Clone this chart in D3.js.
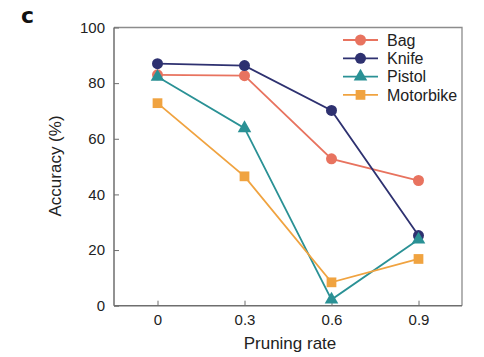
<!DOCTYPE html>
<html><head><meta charset="utf-8">
<script src="https://cdn.jsdelivr.net/npm/d3@7"></script>
<style>body{margin:0;background:#fff}svg{display:block}</style>
</head><body>
<script>
const rates = [0, 0.3, 0.6, 0.9];
const rateLabels = ["0", "0.3", "0.6", "0.9"];
const yTicks = [0, 20, 40, 60, 80, 100];
const seriesNames = ["Bag", "Knife", "Pistol", "Motorbike"];
const bagValues = [83, 82.7, 52.8, 45];
const knifeValues = [87, 86.3, 70.2, 25.2];
const pistolValues = [82.3, 63.8, 2.2, 23.8];
const motorbikeValues = [72.8, 46.5, 8.4, 16.8];

const colors = {Bag:"#e8735f", Knife:"#2e3170", Pistol:"#2a9195", Motorbike:"#f0a340"};
const shapes = {Bag:d3.symbolCircle, Knife:d3.symbolCircle, Pistol:d3.symbolTriangle, Motorbike:d3.symbolSquare};
const sizes = {Bag:95, Knife:95, Pistol:80, Motorbike:95};
const series = [
  {name:"Bag", values:bagValues},
  {name:"Knife", values:knifeValues},
  {name:"Pistol", values:pistolValues},
  {name:"Motorbike", values:motorbikeValues}
];

const W=484,H=357;
const svg=d3.select("body").append("svg").attr("width",W).attr("height",H);
const L=114,T=27.5,R=462,B=305.7;
const x=d3.scaleLinear().domain([-0.15,1.05]).range([L,R]);
const y=d3.scaleLinear().domain([0,100]).range([B,T]);
const font="Liberation Sans, Arial, sans-serif";

svg.append("path").attr("d",`M${L},${T}H${R}V${B}`).attr("fill","none").attr("stroke","#8c8c8c").attr("stroke-width",1.3);

const yAxis=svg.append("g").attr("transform",`translate(${L},0)`)
  .call(d3.axisLeft(y).tickValues(yTicks).tickSize(-5).tickPadding(9).tickFormat(d3.format("d")));
const xAxis=svg.append("g").attr("transform",`translate(0,${B})`)
  .call(d3.axisBottom(x).tickValues(rates).tickSize(-5).tickPadding(9).tickFormat((d,i)=>rateLabels[i]));
[yAxis,xAxis].forEach(a=>{
  a.select(".domain").attr("stroke","#6e6e6e").attr("stroke-width",1.5);
  a.selectAll(".tick line").attr("stroke","#6e6e6e").attr("stroke-width",1);
  a.selectAll("text").attr("font-family",font).attr("font-size",15).attr("fill","#222");
});
yAxis.select(".domain").attr("d",`M0,${B}V${T}`);
xAxis.select(".domain").attr("d",`M${L},0H${R}`);

svg.append("text").attr("x",290).attr("y",349).attr("text-anchor","middle")
  .attr("font-family",font).attr("font-size",17).attr("fill","#222").text("Pruning rate");
svg.append("text").attr("transform",`translate(61,166) rotate(-90)`).attr("text-anchor","middle")
  .attr("font-family",font).attr("font-size",17).attr("fill","#222").text("Accuracy (%)");
svg.append("text").attr("x",21).attr("y",23).attr("font-family","DejaVu Sans, sans-serif")
  .attr("font-weight","bold").attr("font-size",22).attr("fill","#111").text("c");

const line=d3.line().x((d,i)=>x(rates[i])).y(d=>y(d));
series.forEach(s=>{
  svg.append("path").attr("d",line(s.values)).attr("fill","none")
    .attr("stroke",colors[s.name]).attr("stroke-width",1.8);
});
series.forEach(s=>{
  const sym=d3.symbol().type(shapes[s.name]).size(sizes[s.name]);
  svg.append("g").selectAll("path").data(s.values).join("path")
    .attr("d",sym).attr("fill",colors[s.name])
    .attr("transform",(d,i)=>`translate(${x(rates[i])},${y(d)})`);
});

const lg=svg.append("g");
seriesNames.forEach((n,i)=>{
  const yy=40+i*18.3;
  lg.append("line").attr("x1",343).attr("x2",378).attr("y1",yy).attr("y2",yy)
    .attr("stroke",colors[n]).attr("stroke-width",1.8);
  lg.append("path").attr("d",d3.symbol().type(shapes[n]).size(sizes[n])())
    .attr("fill",colors[n]).attr("transform",`translate(360.5,${yy})`);
  lg.append("text").attr("x",387).attr("y",yy).attr("dy","0.35em")
    .attr("font-family",font).attr("font-size",16).attr("fill","#222").text(n);
});
</script>
</body></html>
